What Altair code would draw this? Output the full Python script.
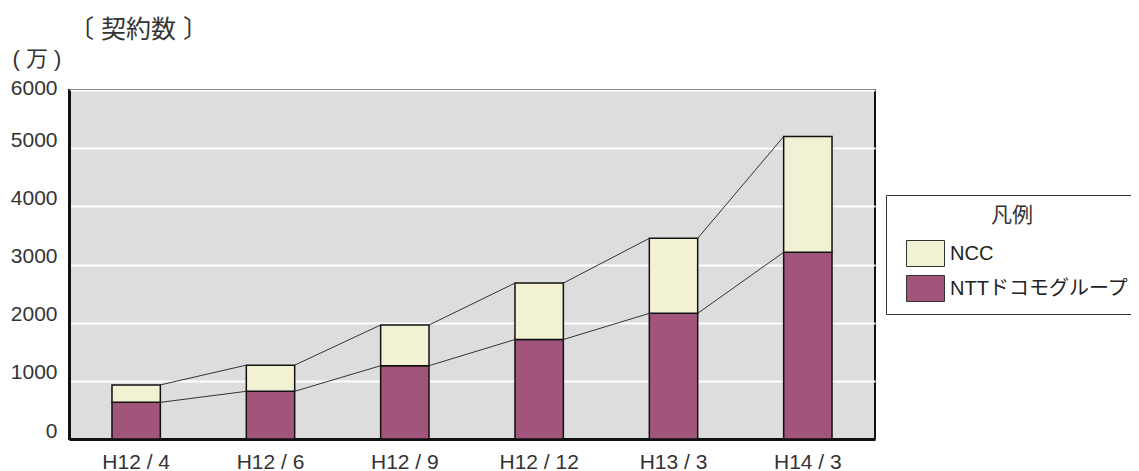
import altair as alt
import pandas as pd

categories = ["H12 / 4", "H12 / 6", "H12 / 9", "H12 / 12", "H13 / 3", "H14 / 3"]
ntt = [630, 820, 1260, 1710, 2160, 3210]
ncc = [300, 450, 700, 970, 1290, 1990]
series = ["NCC", "NTTドコモグループ"]
colors = ["#f2f1d3", "#a1557a"]
y_ticks = [0, 1000, 2000, 3000, 4000, 5000, 6000]

FONT = "'Liberation Sans', 'Noto Sans CJK JP', sans-serif"

rows = []
for c, a, b in zip(categories, ntt, ncc):
    rows.append({"cat": c, "series": series[1], "value": a, "ord": 0})
    rows.append({"cat": c, "series": series[0], "value": b, "ord": 1})
bars_df = pd.DataFrame(rows)

totals = [a + b for a, b in zip(ntt, ncc)]
lrows = []
for level in (totals, ntt):
    for i in range(len(categories) - 1):
        lrows.append({"c1": categories[i], "c2": categories[i + 1],
                      "v1": level[i], "v2": level[i + 1]})
lines_df = pd.DataFrame(lrows)

xscale = alt.Scale(domain=categories, paddingInner=0.64, paddingOuter=0.32)
yscale = alt.Scale(domain=[0, 6000], nice=False)

bars = alt.Chart(bars_df).mark_bar(stroke="#111111", strokeWidth=1.5).encode(
    x=alt.X("cat:N", scale=xscale, sort=categories,
            axis=alt.Axis(title=None, labelAngle=0, labelFont=FONT, labelFontSize=21,
                          labelColor="#333333", labelPadding=12, tickSize=0,
                          domainColor="#111111", domainWidth=3, labelBaseline="top")),
    y=alt.Y("value:Q", stack="zero", scale=yscale,
            axis=alt.Axis(values=y_ticks, format="d", title="( 万 )", titleAngle=0,
                          titleAlign="left",
                          titleBaseline="alphabetic", titleX=-57, titleY=-25,
                          titleFont=FONT, titleFontSize=22, titleFontWeight="normal",
                          titleColor="#333333",
                          labelFont=FONT, labelFontSize=21, labelColor="#333333",
                          labelBaseline={"condition": {"test": "datum.value == 6000",
                                                       "value": "middle"},
                                         "value": "alphabetic"},
                          labelOffset=-2, labelPadding=12,
                          tickSize=0, domainColor="#111111", domainWidth=3,
                          gridColor="white", gridWidth=2, gridOpacity=1)),
    color=alt.Color("series:N", scale=alt.Scale(domain=series, range=colors),
                    legend=alt.Legend(title="凡例", orient="none", legendX=817, legendY=105,
                                      titleAnchor="middle", titleAlign="center",
                                      titleFont=FONT, titleFontSize=21, titleFontWeight="normal",
                                      titleColor="#333333", titlePadding=8,
                                      labelFont=FONT, labelFontSize=20, labelColor="#222222",
                                      labelOffset=5, symbolOffset=10, labelLimit=400,
                                      symbolType="M-1,-0.684L1,-0.684L1,0.684L-1,0.684Z",
                                      symbolSize=1444, symbolStrokeColor="#333333",
                                      symbolStrokeWidth=1, symbolOpacity=1,
                                      fillColor="white", strokeColor="#333333",
                                      padding=10, rowPadding=0)),
    order=alt.Order("ord:Q"),
)

lines = alt.Chart(lines_df).mark_rule(color="#333333", strokeWidth=1).encode(
    x=alt.X("c1:N", scale=xscale, bandPosition=1),
    x2=alt.X2("c2:N", bandPosition=0),
    y=alt.Y("v1:Q", scale=yscale),
    y2=alt.Y2("v2:Q"),
)

chart = alt.layer(bars, lines).properties(
    width=806, height=349,
    background="white",
    autosize=alt.AutoSizeParams(type="none"),
    padding={"left": 61, "top": 82, "right": 256, "bottom": 32},
    title=alt.TitleParams("〔 契約数 〕", anchor="start", frame="group", font=FONT,
                          fontSize=25, fontWeight="normal", color="#333333",
                          baseline="alphabetic", offset=10, dy=26, dx=0),
).configure_view(fill="#dddddd", stroke="#111111", strokeWidth=2)

chart.save("out.html", embed_options={"renderer": "svg", "actions": False})
